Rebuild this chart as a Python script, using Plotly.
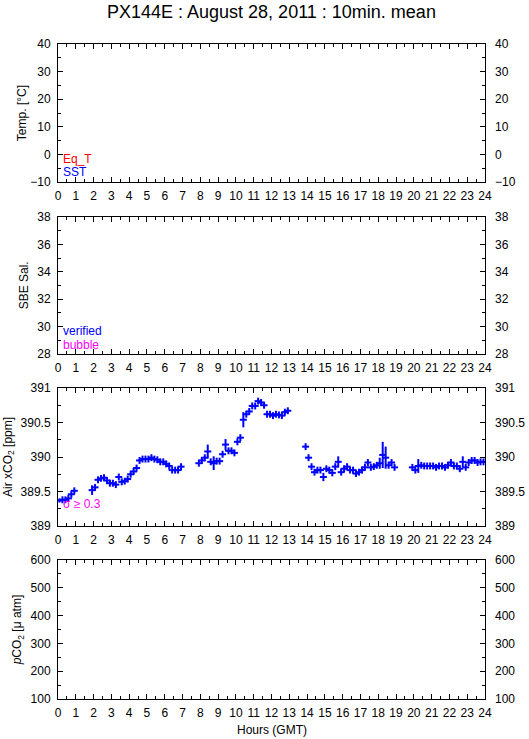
import plotly.graph_objects as go

# ---- data (panel 3: Air xCO2, 10-min means) ----
slot = list(range(0, 6)) + list(range(11, 42)) + list(range(47, 78)) + list(range(83, 114)) + list(range(119, 144))
xco2 = [389.37, 389.38, 389.38, 389.40, 389.46, 389.51,
        389.52, 389.56, 389.67, 389.69, 389.70, 389.66, 389.62, 389.62, 389.60, 389.71,
        389.64, 389.65, 389.68, 389.75, 389.79, 389.84, 389.95, 389.97, 389.97, 389.97,
        389.99, 389.97, 389.96, 389.93, 389.93, 389.90, 389.87, 389.81, 389.81, 389.81, 389.86,
        389.91, 389.95, 389.99, 390.08, 389.93, 389.91, 389.94, 389.94, 390.04, 390.18,
        390.09, 390.09, 390.06, 390.22, 390.28, 390.54, 390.62, 390.66, 390.74, 390.74,
        390.81, 390.79, 390.75, 390.62, 390.62, 390.60, 390.62, 390.61, 390.60, 390.65, 390.67,
        390.15, 389.99, 389.86, 389.78, 389.81, 389.81, 389.71, 389.83, 389.81, 389.77,
        389.86, 389.93, 389.78, 389.83, 389.86, 389.81, 389.81, 389.76, 389.78, 389.81,
        389.85, 389.92, 389.85, 389.86, 389.88, 389.91, 390.03, 389.99, 389.88, 389.92, 389.85,
        389.85, 389.81, 389.87, 389.88, 389.87, 389.87, 389.87, 389.87, 389.85, 389.87,
        389.87, 389.85, 389.88, 389.92, 389.87, 389.87, 389.83, 389.93, 389.85, 389.92,
        389.95, 389.95, 389.92, 389.93, 389.93]
sd_big = {0: 0.03, 11: 0.07, 50: 0.1, 52: 0.1, 56: 0.08, 62: 0.11, 89: 0.06, 94: 0.08,
          108: 0.08, 109: 0.19, 110: 0.16, 121: 0.1, 136: 0.08}
sd = [sd_big.get(k, 0.05) for k in slot]
hours = [k / 6 + 1 / 12 for k in slot]

title_text = "PX144E : August 28, 2011 : 10min. mean"
hour_ticks = list(range(0, 25))
ranges = [(-10, 40), (28, 38), (389, 391), (100, 600)]
major = [10, 2, 0.5, 100]
minor = [5, 1, 0.25, 50]
ytitles = ["Temp. [°C]", "SBE Sal.", "Air xCO<sub>2</sub> [ppm]", "<i>p</i>CO<sub>2</sub> [μ atm]"]

# ---- layout geometry (pixels) ----
W, H = 529, 739
L, R, T, B = 58, 44, 44, 40
ph = H - T - B
panels_px = [(44, 182), (217, 354), (388, 526), (560, 699)]
FONT = "Liberation Sans, Arial, Helvetica, sans-serif"

fig = go.Figure()
layout = dict(width=W, height=H, margin=dict(l=L, r=R, t=T, b=B, autoexpand=False),
              paper_bgcolor="white", plot_bgcolor="white", showlegend=False,
              font=dict(family=FONT, size=12, color="black"))

annotations = []
for i, ((top, bot), (lo, hi)) in enumerate(zip(panels_px, ranges)):
    n = i + 1
    sfx = "" if n == 1 else str(n)
    dom = [(H - B - bot) / ph, (H - B - top) / ph]
    layout["xaxis" + sfx] = dict(domain=[0, 1], range=[0, 24], anchor="y" + sfx, automargin=False,
                                 tickmode="array", tickvals=hour_ticks, ticklabelstandoff=3,
                                 ticks="inside", ticklen=5, tickwidth=1, tickcolor="black",
                                 minor=dict(dtick=0.5, tick0=0, ticks="inside", ticklen=3, tickcolor="black"),
                                 showline=True, linecolor="black", linewidth=1, mirror="ticks",
                                 showgrid=False, zeroline=False, tickfont=dict(size=12))
    layout["yaxis" + sfx] = dict(domain=dom, range=[lo, hi], anchor="x" + sfx, automargin=False,
                                 tick0=lo, dtick=major[i], ticks="inside", ticklen=5, tickcolor="black",
                                 ticklabelstandoff=4,
                                 minor=dict(dtick=minor[i], ticks="inside", ticklen=3, tickcolor="black"),
                                 showline=True, linecolor="black", linewidth=1, mirror="ticks",
                                 showgrid=False, zeroline=False, tickfont=dict(size=12))
    rn = n + 4
    layout["yaxis" + str(rn)] = dict(range=[lo, hi], overlaying="y" + sfx, side="right",
                                     anchor="x" + sfx, tick0=lo, dtick=major[i], ticks="",
                                     automargin=False, ticklabelstandoff=9,
                                     showline=False, showgrid=False, zeroline=False,
                                     tickfont=dict(size=12))
    fig.add_trace(go.Scatter(x=[], y=[], xaxis="x" + sfx, yaxis="y" + sfx, hoverinfo="skip"))
    fig.add_trace(go.Scatter(x=[], y=[], xaxis="x" + sfx, yaxis="y" + str(rn), hoverinfo="skip"))
    ymid = (H - B - (top + bot) / 2) / ph
    tx = [-0.084, -0.08, -0.115, -0.094][i]
    annotations.append(dict(text=ytitles[i], x=tx, y=ymid, xref="paper", yref="paper",
                            textangle=-90, showarrow=False, font=dict(size=12),
                            xanchor="center", yanchor="middle"))

fig.add_trace(go.Scatter(x=hours, y=xco2, xaxis="x3", yaxis="y3", mode="markers",
                         marker=dict(symbol="line-ew", size=5, color="#0000ff",
                                     line=dict(width=2, color="#0000ff")),
                         error_y=dict(type="data", array=sd, visible=True, thickness=2,
                                      width=0, color="#0000ff"),
                         hoverinfo="skip"))

def label(text, ref, yy, color):
    annotations.append(dict(text=text, x=0.007, y=yy, xref=ref[0] + " domain", yref=ref[1] + " domain",
                            xanchor="left", yanchor="middle", showarrow=False,
                            font=dict(size=12, color=color)))

label("Eq_T", ("x", "y"), 0.17, "#ff0000")
label("SST", ("x", "y"), 0.072, "#0000ff")
label("verified", ("x2", "y2"), 0.165, "#0000ff")
label("bubble", ("x2", "y2"), 0.066, "#ff00ff")
label("σ ≥ 0.3", ("x3", "y3"), 0.16, "#ff00ff")

annotations.append(dict(text=title_text, x=0.5, y=(H - B - 12) / ph, xref="paper", yref="paper",
                        showarrow=False, font=dict(size=18), xanchor="center", yanchor="middle"))
annotations.append(dict(text="Hours (GMT)", x=0.5, y=(H - B - 730) / ph, xref="paper", yref="paper",
                        showarrow=False, font=dict(size=12), xanchor="center", yanchor="middle"))
layout["annotations"] = annotations
fig.update_layout(**layout)
fig.write_html("out.html", config={"displayModeBar": False, "staticPlot": True},
               post_script="document.body.style.margin='0';document.body.style.padding='0';")
